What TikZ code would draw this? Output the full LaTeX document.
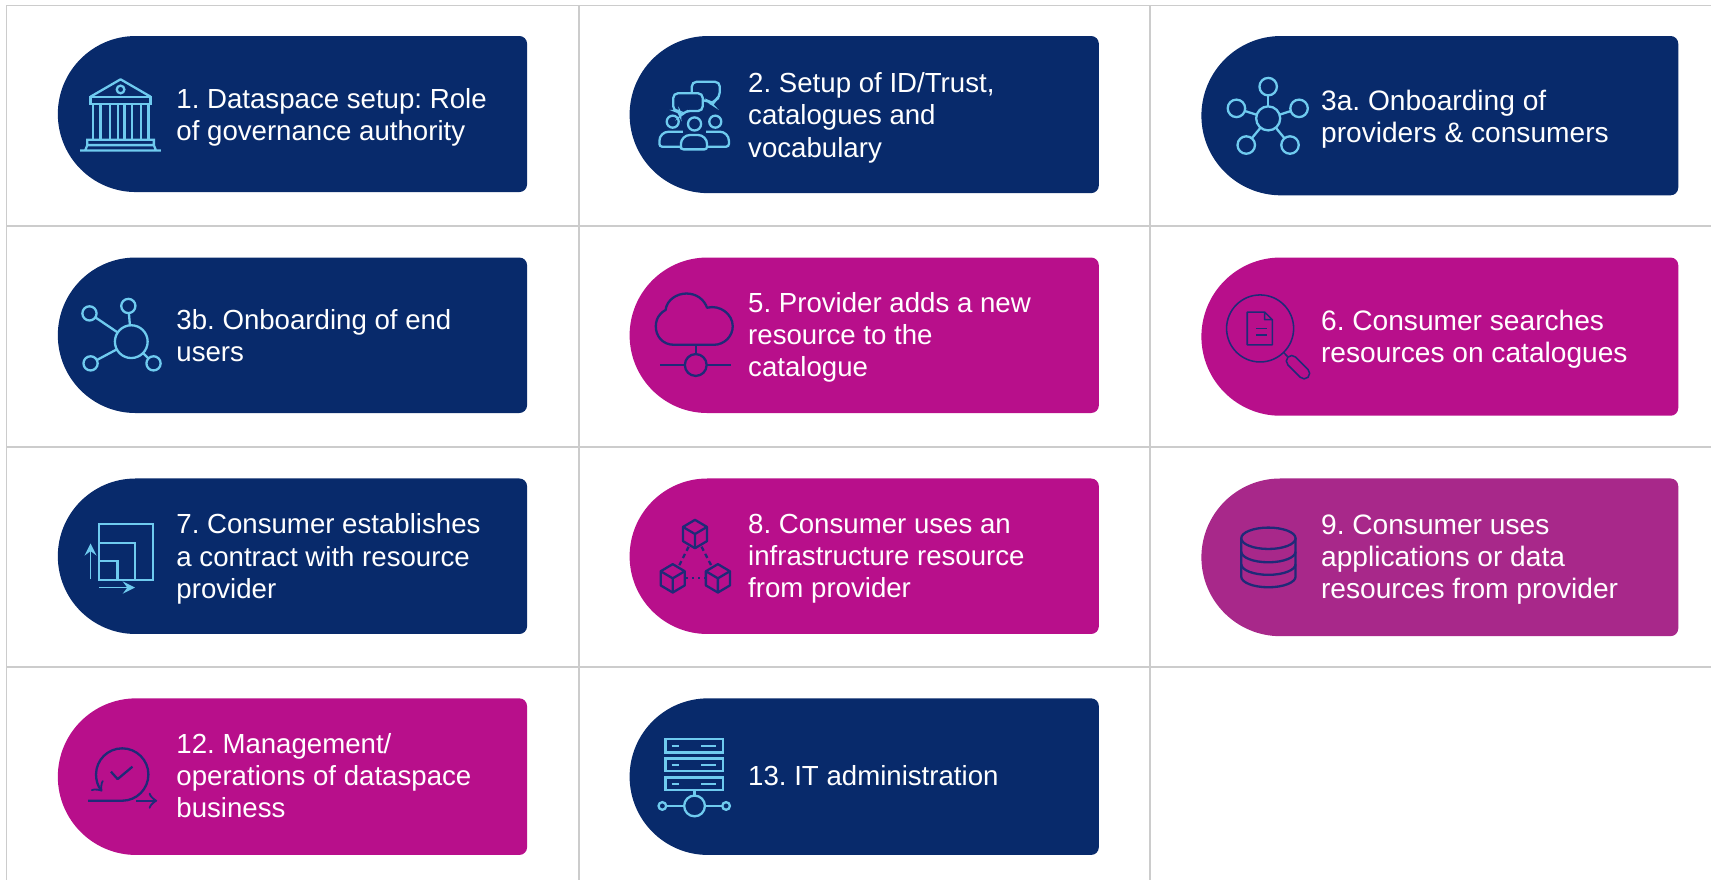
\documentclass[tikz,border=0pt]{standalone}
\usepackage{fontspec}
\setmainfont{Liberation Sans}
\frenchspacing

\definecolor{navybg}{HTML}{082A6B}
\definecolor{magentabg}{HTML}{B80F8B}
\definecolor{plumbg}{HTML}{A8288A}
\definecolor{iconlight}{HTML}{6FCBEF}
\definecolor{icondark}{HTML}{1F2A78}
\definecolor{gridgray}{HTML}{CCCCCC}

\tikzset{
  pilltext/.style={anchor=west, inner sep=0pt, align=left, text=white},
  lighticon/.style={draw=iconlight, line width=0.6pt},
  darkicon/.style={draw=icondark, line width=0.6pt},
  hubdot/.style={circle, inner sep=0pt, outer sep=0pt, minimum size=#1*0.02cm}
}

% one small cube of the icon in the resource box
\def\cube#1#2{
  \begin{scope}[shift={(#1,#2)}]
    \draw[darkicon, line join=round] (0,-13) -- (11,-6.5) -- (11,6.5) -- (0,13) -- (-11,6.5) -- (-11,-6.5) -- cycle;
    \draw[darkicon, line join=round] (-11,-6.5) -- (0,0) -- (11,-6.5) (0,0) -- (0,13);
  \end{scope}
}

\begin{document}
\begin{tikzpicture}[x=0.01cm, y=-0.01cm]
  \useasboundingbox (0,0) rectangle (1568,806);

  % table lines
  \foreach \x in {6,530.5,1054}
    \draw[gridgray, line width=0.45pt] (\x,5) -- (\x,806);
  \foreach \y in {5,207,409.5,611.5}
    \draw[gridgray, line width=0.45pt] (6,\y) -- (1568,\y);

  % boxes with their texts
  \foreach \nm/\x/\y/\w/\h/\col/\tx/\ty/\fs/\txt in {
    setup/53/33/430/143/navybg/161/107.5/7.2/{1. Dataspace setup: Role\\of governance authority},
    trust/577/33/430/144/navybg/685/108/7.2/{2. Setup of ID/Trust,\\catalogues and\\vocabulary},
    onboarda/1101/33/437/146/navybg/1210/109/7.33/{3a. Onboarding of\\providers \& consumers},
    onboardb/53/236/430/142.5/navybg/161/307.25/7.2/{3b. Onboarding of end\\users},
    adds/577/236/430/142.5/magentabg/685/309.25/7.2/{5. Provider adds a new\\resource to the\\catalogue},
    searches/1101/236/437/145/magentabg/1210/311/7.33/{6. Consumer searches\\resources on catalogues},
    contract/53/438.5/430/142.5/navybg/161/512.25/7.2/{7. Consumer establishes\\a contract with resource\\provider},
    infra/577/438.5/430/142.5/magentabg/685/512/7.2/{8. Consumer uses an\\infrastructure resource\\from provider},
    apps/1101/438.5/437/144.5/plumbg/1210/512.75/7.33/{9. Consumer uses\\applications or data\\resources from provider},
    operations/53/640/430/143.5/magentabg/161/710.75/7.2/{12. Management/\\operations of dataspace\\business},
    itadmin/577/640/430/143.5/navybg/685/710.75/7.2/{13. IT administration}} {
    \pgfmathsetmacro{\r}{\h/2}
    \fill[\col] (\x+\r,\y) [rounded corners=2pt] -- (\x+\w,\y) -- (\x+\w,\y+\h) [sharp corners] -- (\x+\r,\y+\h)
      arc[start angle=90, end angle=270, radius=\r] -- cycle;
    \node[pilltext, font=\fontsize{\fs}{8.4}\selectfont] (\nm) at (\tx,\ty) {\txt};
  }

  % bank
  \draw[lighticon, line join=round] (83,88.6) -- (110.5,72.7) -- (138,88.6);
  \draw[lighticon] (83,88.6) rectangle (138,95);
  \node[lighticon, hubdot=3.5] (bankdot) at (110.5,82) {};
  \foreach \x in {85,92,101,108,114,121,129,136}
    \draw[lighticon] (\x,95) -- (\x,128);
  \draw[lighticon] (84,128) -- (137,128) (80,133) rectangle (141,128) (73.5,138) -- (147.5,138) (78,138) -- (80,133) (143,138) -- (141,133);

  % people and speech bubbles
  \draw[lighticon, rounded corners=1.2pt] (634,85) -- (634,75) -- (659.6,75) -- (659.6,89) -- (655,92) -- (652.8,96) -- (649,92) -- (644,92);
  \draw[lighticon, rounded corners=1.2pt] (617,85.5) -- (644,85.5) -- (644,101.7) -- (628,101.7) -- (623.3,107) -- (623,101.7) -- (617,101.7) -- cycle;
  \node[lighticon, hubdot=5.5] (headl) at (616.5,111.5) {};
  \node[lighticon, hubdot=6] (headm) at (636.5,113.6) {};
  \node[lighticon, hubdot=5.5] (headr) at (655.5,111.5) {};
  \draw[lighticon, rounded corners=0.7pt] (624,134.4) -- (604.3,134.4) [rounded corners=2.4pt] -- (604.3,120.7) -- (625.7,120.7);
  \draw[lighticon, rounded corners=2.4pt] (647,120.7) -- (668,120.7) [rounded corners=0.7pt] -- (668,134.4) -- (648,134.4);
  \draw[lighticon, rounded corners=0.7pt] (624,136.9) [rounded corners=2.4pt] -- (624,123.7) -- (648,123.7) [rounded corners=0.7pt] -- (648,136.9) -- (624,136.9) -- (624,130);

  % network with five ends
  \node[lighticon, hubdot=11] (hubthree) at (1162.2,108.5) {};
  \foreach \nm/\x/\y in {ta/1162.2/79.4, tb/1133.1/99.3, tc/1190.5/99.3, td/1142.1/132.9, te/1182.2/132.9} {
    \node[lighticon, hubdot=8] (\nm) at (\x,\y) {};
    \draw[lighticon] (hubthree) -- (\nm);
  }

  % network with four ends
  \node[lighticon, hubdot=15] (hubfour) at (120.3,313.1) {};
  \foreach \nm/\x/\y in {fa/82/287.2, fb/117.6/280.4, fc/83/333, fd/140.7/333} {
    \node[lighticon, hubdot=6.5] (\nm) at (\x,\y) {};
    \draw[lighticon] (hubfour) -- (\nm);
  }

  % cloud
  \draw[darkicon, line join=round] (618,316) .. controls (607,316) and (601,308) .. (601,299)
    .. controls (601,291) and (606,286) .. (610,284) .. controls (611,275) and (620,269) .. (629,269)
    .. controls (638,269) and (645,274) .. (648,282) .. controls (660,279) and (671.5,288) .. (671.5,299)
    .. controls (671.5,308) and (664,316) .. (654,316) -- cycle;
  \node[darkicon, hubdot=10] (cloudhub) at (637.6,334.5) {};
  \coordinate (cloudstem) at (637.6,316);
  \coordinate (cloudl) at (605,334.5);
  \coordinate (cloudr) at (670,334.5);
  \draw[darkicon] (cloudstem) -- (cloudhub) (cloudl) -- (cloudhub) (cloudhub) -- (cloudr);

  % magnifier over a document
  \node[darkicon, line width=0.4pt, hubdot=30.7] (lens) at (1154.8,301) {};
  \node[darkicon, line width=0.4pt, rectangle, rounded corners=1.4pt, inner sep=0pt, minimum width=0.26cm, minimum height=0.1cm, rotate=-45] (grip) at (1189.5,336.5) {};
  \draw[darkicon, line width=0.4pt] (lens) -- (grip);
  \draw[darkicon, line width=0.4pt, line join=round] (1143,286) -- (1159,286) -- (1166,293) -- (1166,316) -- (1143,316) -- cycle (1159,286) -- (1159,293) -- (1166,293);
  \draw[darkicon, line width=0.4pt] (1150.8,301) -- (1160.8,301) (1150.8,307) -- (1160.8,307);

  % nested squares
  \draw[lighticon] (90.9,480.2) rectangle (140,531.5);
  \draw[lighticon] (90.9,497.9) -- (123.7,497.9) -- (123.7,531.5);
  \draw[lighticon] (90.9,513.8) -- (107.8,513.8) -- (107.8,531.5);
  \draw[lighticon, line width=0.4pt, -stealth] (83,531) -- (83,498);
  \draw[lighticon, line width=0.4pt, -stealth] (90.9,538.5) -- (123.7,538.5);

  % cubes
  \cube{636.9}{489.4}
  \cube{616.5}{530}
  \cube{657.9}{530}
  \coordinate (cubetop) at (636.9,489.4);
  \coordinate (cubeleft) at (616.5,530);
  \coordinate (cuberight) at (657.9,530);
  \draw[darkicon, dash pattern=on 1.2pt off 0.9pt, shorten <=0.13cm, shorten >=0.12cm] (cubetop) -- (cubeleft);
  \draw[darkicon, dash pattern=on 1.2pt off 0.9pt, shorten <=0.13cm, shorten >=0.12cm] (cubetop) -- (cuberight);
  \draw[darkicon, densely dotted, shorten <=0.12cm, shorten >=0.12cm] (cubeleft) -- (cuberight);

  % database
  \draw[darkicon] (1162.4,493.3) ellipse[x radius=24.9, y radius=9.8];
  \draw[darkicon] (1137.5,493.3) -- (1137.5,528.4) arc[start angle=180, end angle=0, x radius=24.9, y radius=9.8] -- (1187.3,493.3);
  \foreach \y in {505.5,517}
    \draw[darkicon] (1137.5,\y) arc[start angle=180, end angle=0, x radius=24.9, y radius=9.8];

  % cycle with a check mark
  \draw[darkicon, ->] (80.7,733.8) -- (112,733.8) arc[start angle=90, end angle=-220, radius=24];
  \draw[darkicon, ->] (124.8,733.8) -- (144,733.8);
  \draw[darkicon, line join=round] (101.7,707.2) -- (107.8,714) -- (121.4,702.6);

  % server rack
  \foreach \a/\b in {677.2/689.5, 695/706.6, 712.4/724} {
    \draw[lighticon] (609.8,\a) rectangle (662.3,\b);
    \draw[lighticon] (615.5,\a/2+\b/2) -- (622.3,\a/2+\b/2) (642.6,\a/2+\b/2) -- (656.2,\a/2+\b/2);
  }
  \node[lighticon, hubdot=9.5] (rackhub) at (636.5,738.6) {};
  \node[lighticon, hubdot=3.5] (rackl) at (607,738.6) {};
  \node[lighticon, hubdot=3.5] (rackr) at (665.4,738.6) {};
  \coordinate (rackstem) at (636.5,724);
  \draw[lighticon] (rackstem) -- (rackhub) (rackl) -- (rackhub) (rackhub) -- (rackr);
\end{tikzpicture}
\end{document}
